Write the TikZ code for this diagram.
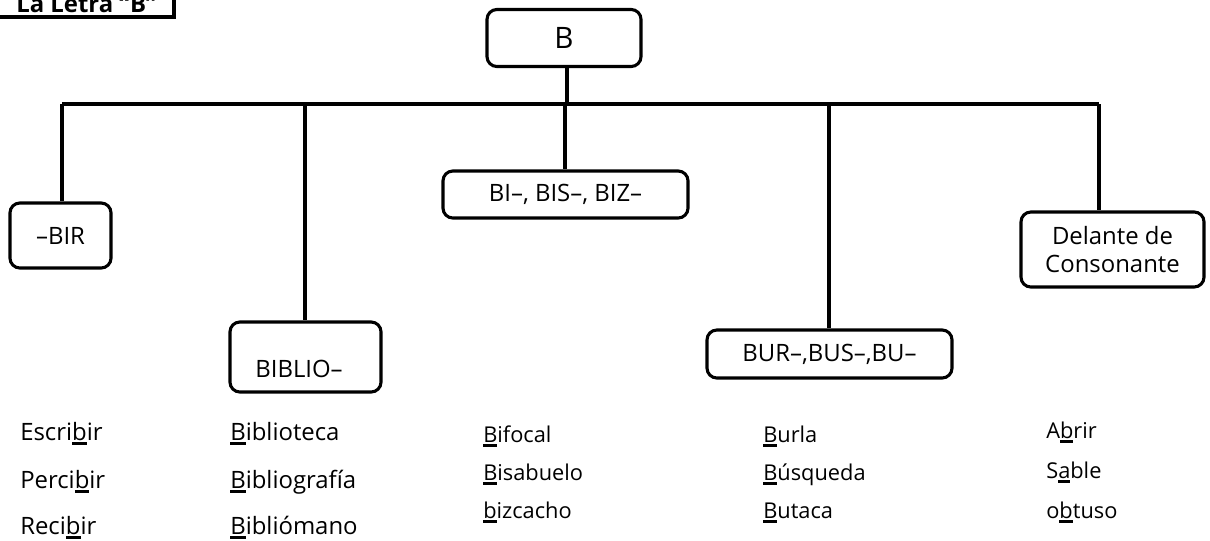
\documentclass[tikz,border=0pt]{standalone}
\usepackage{fontspec}
\setmainfont{Open Sans}
\newdimen\pxl \pxl=0.025cm
\newcommand{\ulet}[1]{\setbox0\hbox{#1}\rlap{\rule[-3.2pt]{\wd0}{1.5pt}}\box0}
\tikzset{
  caja/.style={draw, line width=2.2pt, rounded corners=7pt, inner sep=0pt,
    align=center, font=\fontsize{17}{20}\selectfont},
  rama/.style={line width=2.6pt},
  palabra/.style={anchor=base west, inner sep=0pt, font=\fontsize{17}{20}\selectfont},
  palabrab/.style={anchor=base west, inner sep=0pt, font=\fontsize{15.5}{18}\selectfont}
}
\begin{document}
\begin{tikzpicture}[x=0.025cm, y=-0.025cm]
      \useasboundingbox (0,0) rectangle (1210,540);
      % titulo
      \draw[line width=2.2pt] (-10,-40) rectangle (174,17);
      \node[anchor=base west, inner sep=0pt, font=\fontsize{17}{20}\selectfont\bfseries] (titulo) at (16,12) {La Letra “B”};
      % cajas
      \node[caja, minimum width=154*\pxl, minimum height=57*\pxl] (B) at (564,38) {\fontsize{21}{24}\selectfont B};
      \node[caja, minimum width=101*\pxl, minimum height=65*\pxl] (bir) at (60.5,235.5) {–BIR};
      \node[caja, minimum width=245*\pxl, minimum height=47*\pxl] (bi) at (565.5,194.5) {BI–, BIS–, BIZ–};
      \node[caja, minimum width=151*\pxl, minimum height=70*\pxl] (biblio) at (305.5,357) {};
      \node[anchor=center, inner sep=0pt, font=\fontsize{17}{20}\selectfont] (biblioT) at (299,369) {BIBLIO–};
      \node[caja, minimum width=245*\pxl, minimum height=48*\pxl] (bur) at (829.5,354) {BUR–,BUS–,BU–};
      \node[caja, minimum width=183*\pxl, minimum height=75*\pxl] (delante) at (1112.5,249.5) {Delante de\\Consonante};
      % uniones
      \coordinate (j1) at (62,104);
      \coordinate (j2) at (305,104);
      \coordinate (j3) at (565,104);
      \coordinate (j4) at (829,104);
      \coordinate (j5) at (1099,104);
      \begin{scope}[rama]
        \draw (B.south -| 567,0) -- (567,104);
        \draw (j1) -- (j5);
        \draw (j1) -- (j1 |- bir.north);
        \draw (j2) -- (j2 |- biblio.north);
        \draw (j3) -- (j3 |- bi.north);
        \draw (j4) -- (j4 |- bur.north);
        \draw (j5) -- (j5 |- delante.north);
      \end{scope}
      % palabras
      \node[palabra] (w11) at (20,440) {Escri\ulet{b}ir};
      \node[palabra] (w12) at (20,488) {Perci\ulet{b}ir};
      \node[palabra] (w13) at (20,534) {Reci\ulet{b}ir};
      \node[palabra] (w21) at (230,440) {\ulet{B}iblioteca};
      \node[palabra] (w22) at (230,488) {\ulet{B}ibliografía};
      \node[palabra] (w23) at (230,534) {\ulet{B}ibliómano};
      \node[palabrab] (w31) at (483,442) {\ulet{B}ifocal};
      \node[palabrab] (w32) at (483,480) {\ulet{B}isabuelo};
      \node[palabrab] (w33) at (483,518) {\ulet{b}izcacho};
      \node[palabrab] (w41) at (763,442) {\ulet{B}urla};
      \node[palabrab] (w42) at (763,480) {\ulet{B}úsqueda};
      \node[palabrab] (w43) at (763,518) {\ulet{B}utaca};
      \node[palabrab] (w51) at (1046,438) {A\ulet{b}rir};
      \node[palabrab] (w52) at (1046,478) {S\ulet{a}ble};
      \node[palabrab] (w53) at (1046,518) {o\ulet{b}tuso};
    \end{tikzpicture}
\end{document}
